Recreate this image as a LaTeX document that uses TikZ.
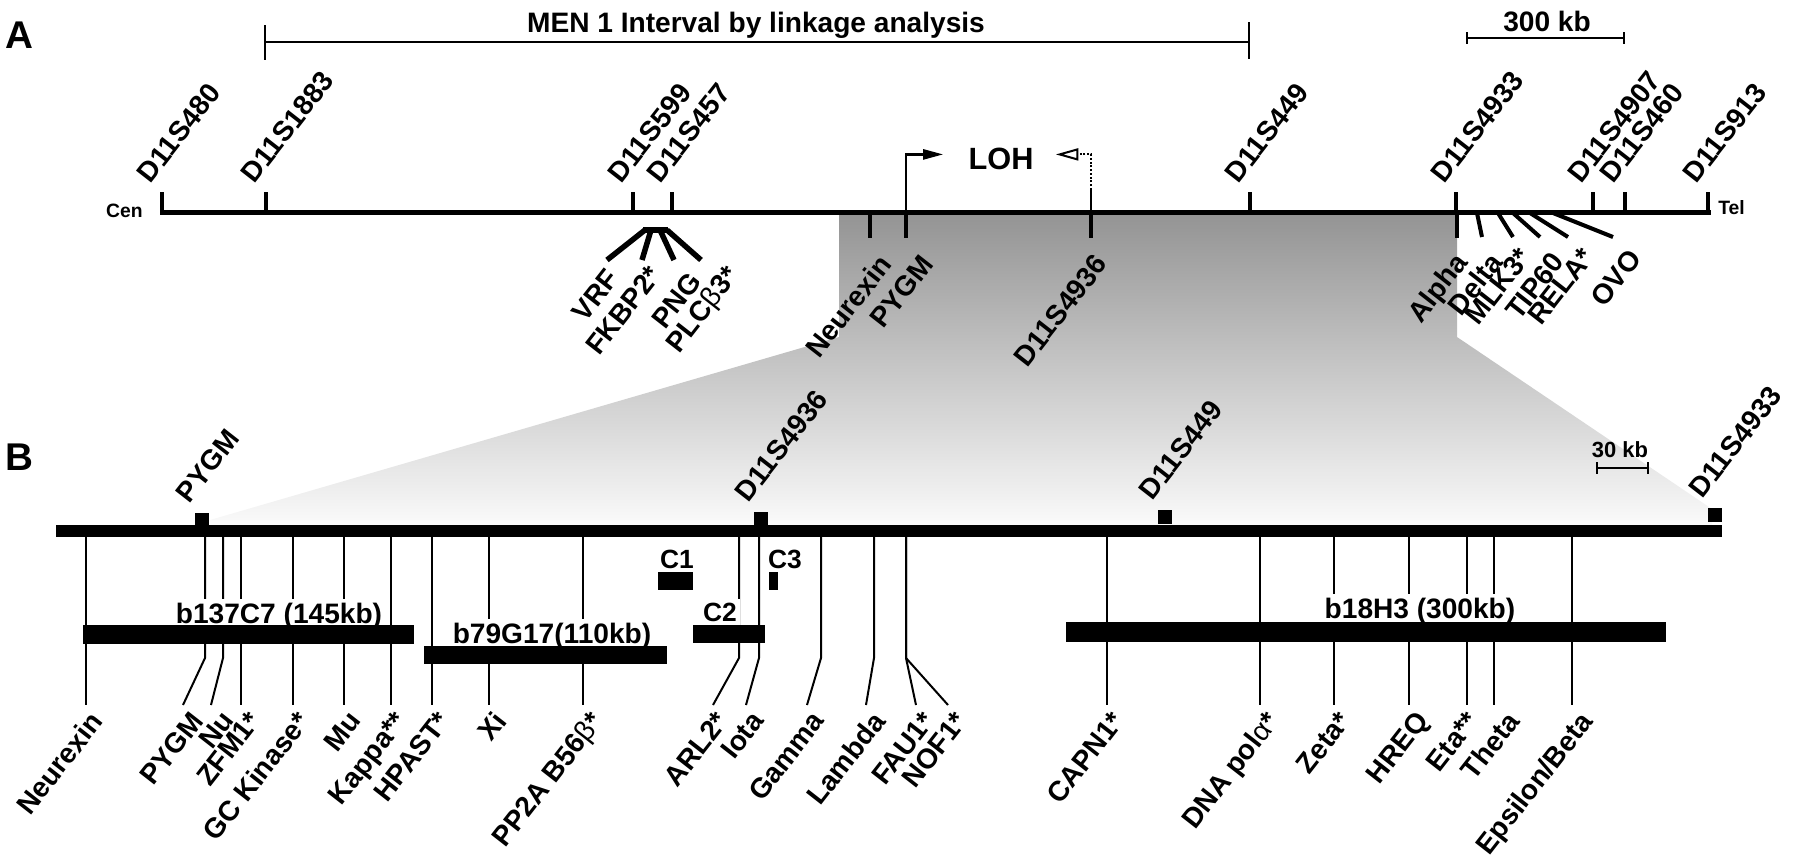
\documentclass[tikz,border=0pt]{standalone}
\usepackage{fontspec}
\setmainfont{Liberation Sans}
\usetikzlibrary{arrows.meta,calc}
\newcommand{\labfont}{\fontsize{16}{16}\selectfont\bfseries}
\newcommand{\thin}[1]{{\mdseries #1}}
\tikzset{
  lab/.style={font=\labfont,inner sep=0pt},
  locus/.style={lab,rotate=52,anchor=south west},
  gene/.style={lab,rotate=52,anchor=north east},
  chrom/.style={line width=0.1cm,line cap=rect},
  stub/.style={line width=0.08cm},
  fanline/.style={line width=0.11cm},
  gline/.style={line width=0.04cm},
  baclab/.style={lab,fill=white,inner sep=2pt,anchor=base},
  scalebar/.style={line width=0.05cm},
  panel/.style={lab,font=\fontsize{22}{22}\selectfont\bfseries,anchor=base},
}

\begin{document}
\begin{tikzpicture}[x=0.02cm,y=-0.02cm]
  \useasboundingbox (0,0) rectangle (1800,859);
  % expanded region, A down to B
  \shade[top color=black!42,bottom color=black!2]
    (839,214) -- (1457,214) -- (1457,337) -- (1712,509) -- (1712,525)
    -- (210,525) -- (210,520) -- (839,337) -- cycle;

  % ---- panel A ----
  \node[panel] (pA) at (19,48) {A};
  \node[lab,anchor=base] (men) at (756,32) {MEN 1 Interval by linkage analysis};
  \coordinate (menL) at (265,42);
  \coordinate (menR) at (1249,42);
  \draw[scalebar] (menL) -- (menR);
  \draw[scalebar] (menL) ++(0,-17) -- ++(0,35);
  \draw[scalebar] (menR) ++(0,-20) -- ++(0,37);

  \node[lab,anchor=base] (kb300) at (1547,31) {300 kb};
  \coordinate (kbL) at (1467,38);
  \coordinate (kbR) at (1624,38);
  \draw[scalebar] (kbL) -- (kbR);
  \draw[scalebar] (kbL) ++(0,-6) -- ++(0,12);
  \draw[scalebar] (kbR) ++(0,-6) -- ++(0,12);

  \foreach \x/\nm/\txt in {162/s480/D11S480, 266/s1883/D11S1883, 633/s599/D11S599,
      672/s457/D11S457, 1250/s449/D11S449, 1456/s4933/D11S4933,
      1593/s4907/D11S4907, 1625/s460/D11S460, 1708/s913/D11S913}{
    \coordinate (\nm) at (\x,212);
    \draw[stub] (\nm) -- ++(0,-20);
    \node[locus] (l\nm) at ($(\nm)+(-11,-27)$) {\txt};
  }
  \draw[chrom] (s480) -- (s913);
  \node[lab,font=\fontsize{11}{11}\selectfont\bfseries,anchor=base east] (cen) at (143,217) {Cen};
  \node[lab,font=\fontsize{11}{11}\selectfont\bfseries,anchor=base west] (tel) at (1718,214) {Tel};

  % loci below the line
  \foreach \x/\nm in {870/nrxA, 906/pygmA, 1091/dA, 1457/alphaA}{
    \coordinate (\nm) at (\x,212);
    \draw[stub] (\nm) -- ++(0,26);
  }
  \node[gene] (lnrxA) at (877,252) {Neurexin};
  \node[gene] (lpygmA) at (919,252) {PYGM};
  \node[gene] (ldA) at (1093,252) {D11S4936};
  \node[gene] (lalphaA) at (1453,250) {Alpha};

  % gene cluster near D11S457
  \coordinate (fanL) at (643,230);
  \coordinate (fanR) at (668,230);
  \draw[fanline] (fanL) -- (fanR);
  \foreach \s/\ex/\lx/\ly/\nm/\txt in {645/607/605/267/vrf/VRF, 651/642/647/263/fkbp/FKBP2*,
      660/674/687/270/png/PNG, 667/701/724/263/plc/PLC\thin{β}3*}{
    \coordinate (\nm e) at (\ex,260);
    \draw[fanline] (\s,230) -- (\nm e);
    \node[gene] (l\nm) at (\lx,\ly) {\txt};
  }

  % genes near D11S4933
  \foreach \s/\ex/\lx/\ly/\nm/\txt in {1477/1482/1488/250/dlt/Delta, 1498/1513/1517/245/mlk/MLK3*,
      1513/1540/1550/250/tip/TIP60, 1530/1568/1580/245/rela/RELA*, 1553/1613/1627/247/ovo/OVO}{
    \coordinate (\nm e) at (\ex,237);
    \draw[stub] (\s,213) -- (\nm e);
    \node[gene] (l\nm) at (\lx,\ly) {\txt};
  }

  % LOH
  \node[lab,font=\fontsize{17.5}{17.5}\selectfont\bfseries,anchor=base] (loh) at (1001,169) {LOH};
  \draw[line width=0.05cm,-{Triangle[length=0.4cm,width=0.2cm]}]
    (pygmA) |- ($(loh.west)+(-25,-4)$);
  \draw[line width=0.04cm] (dA) -- ++(0,-22) coordinate (dotS);
  \draw[line width=0.04cm,densely dotted,-{Triangle[open,length=0.45cm,width=0.24cm]}]
    (dotS) |- ($(loh.east)+(22,-4)$);

  % ---- panel B ----
  \node[panel] (pB) at (19,470) {B};
  \node[lab,font=\fontsize{12.5}{12.5}\selectfont\bfseries,anchor=base] (kb30) at (1620,457) {30 kb};
  \coordinate (k30L) at (1597,468);
  \coordinate (k30R) at (1648,468);
  \draw[scalebar] (k30L) -- (k30R);
  \draw[scalebar] (k30L) ++(0,-6) -- ++(0,12);
  \draw[scalebar] (k30R) ++(0,-6) -- ++(0,12);

  \foreach \tx/\ex/\lx/\nm/\txt in {86/86/88/nrx/Neurexin, 205/183/189/pygm/PYGM, 223/211/220/nu/Nu,
      241/241/247/zfm/ZFM1*, 293/293/295/gck/GC Kinase*, 344/344/347/mu/Mu,
      391/391/393/kap/Kappa**, 432/432/436/hpa/HPAST*, 489/489/492/xi/Xi,
      583/583/588/pp2/PP2A B56\thin{β}*, 739/713/714/arl/ARL2*, 759/746/750/iot/Iota,
      821/807/810/gam/Gamma, 874/866/871/lam/Lambda, 906/916/921/fau/FAU1*,
      906/948/953/nof/NOF1*, 1107/1107/1110/cap/CAPN1*, 1260/1260/1264/dna/DNA pol\thin{α}*,
      1334/1334/1337/zet/Zeta*, 1409/1409/1414/hre/HREQ, 1467/1467/1465/eta/Eta**,
      1494/1494/1505/tht/Theta, 1572/1572/1578/eps/{Epsilon/Beta}}{
    \coordinate (t\nm) at (\tx,531);
    \coordinate (e\nm) at (\ex,705);
    \draw[gline] (t\nm) -- (\tx,658) -- (e\nm);
    \node[gene] (l\nm) at (\lx,709) {\txt};
  }

  \fill (56,525) rectangle (1722,537);
  \foreach \x/\y/\nm/\txt in {202/513/bpygm/PYGM, 761/512/bd4936/D11S4936,
      1165/510/bd449/D11S449, 1715/508/bd4933/D11S4933}{
    \coordinate (\nm) at (\x,\y);
    \fill ($(\nm)+(-7,0)$) rectangle ($(\nm)+(7,14)$);
    \node[locus] (l\nm) at ($(\nm)+(-12,-8)$) {\txt};
  }

  % clones
  \node[baclab] (lb137) at (279,623) {b137C7 (145kb)};
  \node[baclab] (lb79) at (552,643) {b79G17(110kb)};
  \node[baclab] (lb18) at (1420,618) {b18H3 (300kb)};
  \node[baclab,font=\fontsize{15}{15}\selectfont\bfseries] (lc1) at (677,568) {C1};
  \node[baclab,font=\fontsize{15}{15}\selectfont\bfseries] (lc3) at (785,568) {C3};
  \node[baclab,font=\fontsize{15}{15}\selectfont\bfseries] (lc2) at (720,621) {C2};
  \fill (83,625) rectangle (414,644);
  \fill (424,646) rectangle (667,664);
  \fill (658,572) rectangle (693,590);
  \fill (769,572) rectangle (778,590);
  \fill (693,625) rectangle (765,643);
  \fill (1066,622) rectangle (1666,642);
\end{tikzpicture}
\end{document}
